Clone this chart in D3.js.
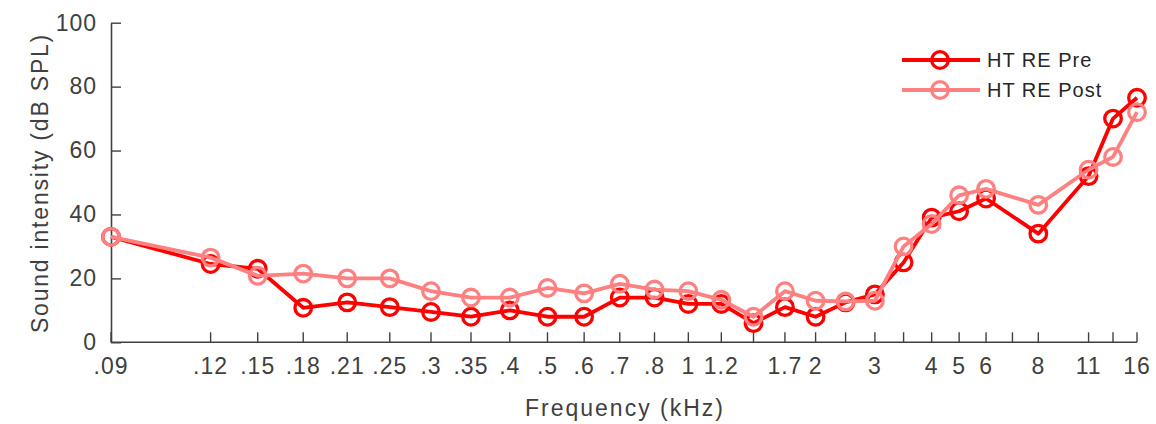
<!DOCTYPE html>
<html><head><meta charset="utf-8">
<script src="https://cdn.jsdelivr.net/npm/d3@7/dist/d3.min.js"></script>
<style>body{margin:0;background:#fff}svg{display:block}text{font-family:"Liberation Sans",Arial,sans-serif}</style>
</head><body><svg id="c" width="1156" height="424"></svg>
<script>
// slot categories (null = empty slot, "" = unlabeled tick)
const categories = [".09", null, ".12", ".15", ".18", ".21", ".25", ".3", ".35", ".4", ".5", ".6", ".7", ".8", "1", "1.2", "", "1.7", "2", "", "3", "", "4", "5", "6", "", "8", null, "11", "", "16"];
const preValues  = [33, null, 24.5, 23, 10.8, 12.5, 11, 9.5, 8, 10, 8, 8, 14, 14, 12, 12, 6, 11, 8, 12.5, 15, 25, 39, 41, 45, null, 34, null, 52, 70, 76.5];
const postValues = [33, null, 26.5, 20.8, 21.5, 20, 20, 16, 14, 14, 17, 15.3, 18.3, 16.5, 16, 13.3, 8, 16, 13, 12.8, 13, 30, 37, 46, 48, null, 43, null, 54, 58, 72];
const yTicks = [0, 20, 40, 60, 80, 100];
const seriesNames = ["HT RE Pre", "HT RE Post"];
const colors = ["#ff0000", "#ff8080"];

(function () {
const svg = d3.select("#c");
const mLeft = 111, mRight = 1137, mTop = 22.7, mBottom = 342.3;
const offset = 25.5;
const x = d3.scaleLog().domain([offset, offset + categories.length - 1]).range([mLeft, mRight]);
const xi = i => x(i + offset);
const y = d3.scaleLinear().domain([0, 100]).range([mBottom, mTop]);
const axisColor = "#404040";
const fs = 23;

const tickIdx = categories.map((c, i) => c === null ? null : i).filter(v => v !== null);
const gx = svg.append("g").attr("transform", `translate(0,${mBottom})`);
gx.append("line").attr("x1", mLeft).attr("x2", mRight).attr("stroke", axisColor).attr("stroke-width", 1.6);
tickIdx.forEach(i => {
  gx.append("line").attr("x1", xi(i)).attr("x2", xi(i)).attr("y1", 0).attr("y2", -10).attr("stroke", axisColor).attr("stroke-width", 1.4);
  gx.append("text").attr("x", xi(i)).attr("y", 32).attr("text-anchor", "middle")
    .attr("font-size", fs).attr("letter-spacing", 1).attr("fill", axisColor).text(categories[i]);
});

const gy = svg.append("g").attr("transform", `translate(${mLeft},0)`)
  .call(d3.axisLeft(y).tickValues(yTicks).tickSizeInner(-10).tickSizeOuter(0).tickPadding(14));
gy.select(".domain").attr("stroke", axisColor).attr("stroke-width", 1.6);
gy.selectAll(".tick line").attr("stroke", axisColor).attr("stroke-width", 1.4);
gy.selectAll(".tick text").attr("font-size", fs).attr("letter-spacing", 1).attr("fill", axisColor)
  .attr("font-family", '"Liberation Sans",Arial,sans-serif');

svg.append("text").attr("x", 625).attr("y", 416).attr("text-anchor", "middle")
  .attr("font-size", fs).attr("letter-spacing", 2).attr("fill", axisColor).text("Frequency (kHz)");
svg.append("text").attr("transform", `translate(48,183) rotate(-90)`).attr("text-anchor", "middle")
  .attr("font-size", fs).attr("letter-spacing", 1.8).attr("fill", axisColor).text("Sound intensity (dB SPL)");

const line = d3.line().x(d => xi(d.i)).y(d => y(d.v));
[preValues, postValues].forEach((vals, s) => {
  const pts = vals.map((v, i) => ({i, v})).filter(d => d.v !== null);
  const g = svg.append("g");
  g.append("path").attr("d", line(pts)).attr("fill", "none").attr("stroke", colors[s]).attr("stroke-width", 3.8).attr("stroke-linejoin", "round");
  g.selectAll("circle").data(pts).join("circle").attr("cx", d => xi(d.i)).attr("cy", d => y(d.v))
    .attr("r", 8.3).attr("fill", "none").attr("stroke", colors[s]).attr("stroke-width", 3.3);
});

// legend
seriesNames.forEach((name, s) => {
  const ly = 60 + s * 30;
  const g = svg.append("g");
  g.append("line").attr("x1", 902).attr("x2", 980).attr("y1", ly).attr("y2", ly).attr("stroke", colors[s]).attr("stroke-width", 3.8);
  g.append("circle").attr("cx", 940).attr("cy", ly).attr("r", 8.3).attr("fill", "none").attr("stroke", colors[s]).attr("stroke-width", 3.3);
  g.append("text").attr("x", 987).attr("y", ly + 7).attr("font-size", 20).attr("letter-spacing", 1).attr("fill", "#262626").text(name);
});
})();
</script></body></html>
